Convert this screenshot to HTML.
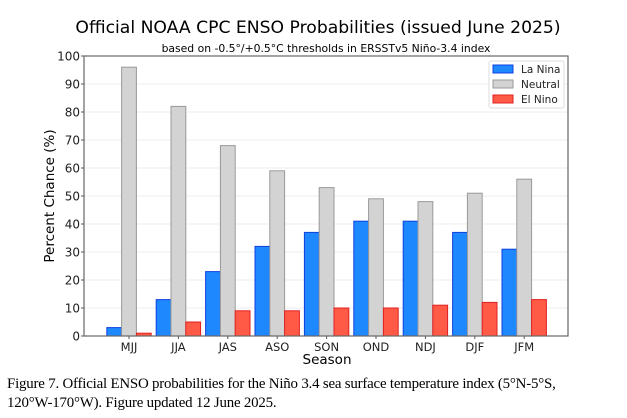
<!DOCTYPE html>
<html><head><meta charset="utf-8"><style>
body{margin:0;background:#fff;width:627px;height:418px;overflow:hidden;font-family:"DejaVu Sans","Liberation Sans",sans-serif}
.cap{position:absolute;left:7px;top:375px;font-family:"Liberation Serif",serif;font-size:14.9px;line-height:19px;color:#000;letter-spacing:-0.2px;white-space:nowrap}
</style></head><body>
<svg id="chart" width="627" height="370" style="position:absolute;left:0;top:0" font-family="DejaVu Sans, Liberation Sans, sans-serif"></svg>
<div class="cap">Figure 7. Official ENSO probabilities for the Niño 3.4 sea surface temperature index (5°N-5°S,<br>120°W-170°W). Figure updated 12 June 2025.</div>
<script>
const seasons=["MJJ","JJA","JAS","ASO","SON","OND","NDJ","DJF","JFM"];
const laNina=[3,13,23,32,37,41,41,37,31];
const neutral=[96,82,68,59,53,49,48,51,56];
const elNino=[1,5,9,9,10,10,11,12,13];
const yTicks=[0,10,20,30,40,50,60,70,80,90,100];
const svg=document.getElementById('chart');const NS='http://www.w3.org/2000/svg';
const L=84,R=568,T=56,B=336;
const y=v=>B-(v/100)*(B-T);
const step=49.4,x0=129;
const x=i=>x0+i*step;
const bw=14.8;
function mk(t,a,p){const e=document.createElementNS(NS,t);for(const k in a)e.setAttribute(k,a[k]);(p||svg).appendChild(e);return e;}
let e;
e=mk('text',{x:318,y:33,'text-anchor':'middle','font-size':17.2,fill:'#000'});e.textContent='Official NOAA CPC ENSO Probabilities (issued June 2025)';


e=mk('text',{x:326,y:52,'text-anchor':'middle','font-size':10.8,fill:'#000'});e.textContent='based on -0.5°/+0.5°C thresholds in ERSSTv5 Niño-3.4 index';


yTicks.forEach(v=>{
 if(v>0&&v<100){const g=mk('line',{x1:L,x2:R,y1:y(v),y2:y(v),stroke:'#ececec','stroke-width':1});
 
 }
 const t=mk('text',{x:L-4,y:y(v)+4.5,'text-anchor':'end','font-size':12,fill:'#222'});t.textContent=v;
 
 
 mk('line',{x1:L-3,x2:L,y1:y(v),y2:y(v),stroke:'#555'});
});
const series=[[laNina,'#1e88ff','#1040e0',-1,'la-nina'],[neutral,'#d3d3d3','#999',0,'neutral'],[elNino,'#ff5a45','#e02020',1,'el-nino']];
seasons.forEach((s,i)=>{
 series.forEach(([d,f,st,o,n])=>{
  const r=mk('rect',{x:x(i)+o*bw-bw/2,y:y(d[i]),width:bw,height:B-y(d[i]),fill:f,stroke:st,'stroke-width':1});
  
  
 });
 const t=mk('text',{x:x(i),y:B+15,'text-anchor':'middle','font-size':11.5,fill:'#222'});t.textContent=s;
 
 
 mk('line',{x1:x(i),x2:x(i),y1:B,y2:B+3,stroke:'#555'});
});
e=mk('rect',{x:L,y:T,width:R-L,height:B-T,fill:'none',stroke:'#666','stroke-width':1.2});


e=mk('text',{x:0,y:0,'text-anchor':'middle','font-size':13.5,fill:'#000',transform:'translate(54,196) rotate(-90)'});e.textContent='Percent Chance (%)';


e=mk('text',{x:327,y:364,'text-anchor':'middle','font-size':13.5,fill:'#000'});e.textContent='Season';


const lg=mk('g',{});


mk('rect',{x:489,y:61,width:75,height:47,fill:'#fff',stroke:'#ddd',rx:2},lg);
[['La Nina','#1e88ff','#1040e0'],['Neutral','#d3d3d3','#999'],['El Nino','#ff5a45','#e02020']].forEach(([n,f,st],k)=>{
 const r=mk('rect',{x:493,y:65+k*15,width:20,height:8,fill:f,stroke:st},lg);
 
 
 const t=mk('text',{x:521,y:73+k*15,'font-size':10.5,fill:'#222'},lg);t.textContent=n;
 
 
});
</script>
</body></html>
